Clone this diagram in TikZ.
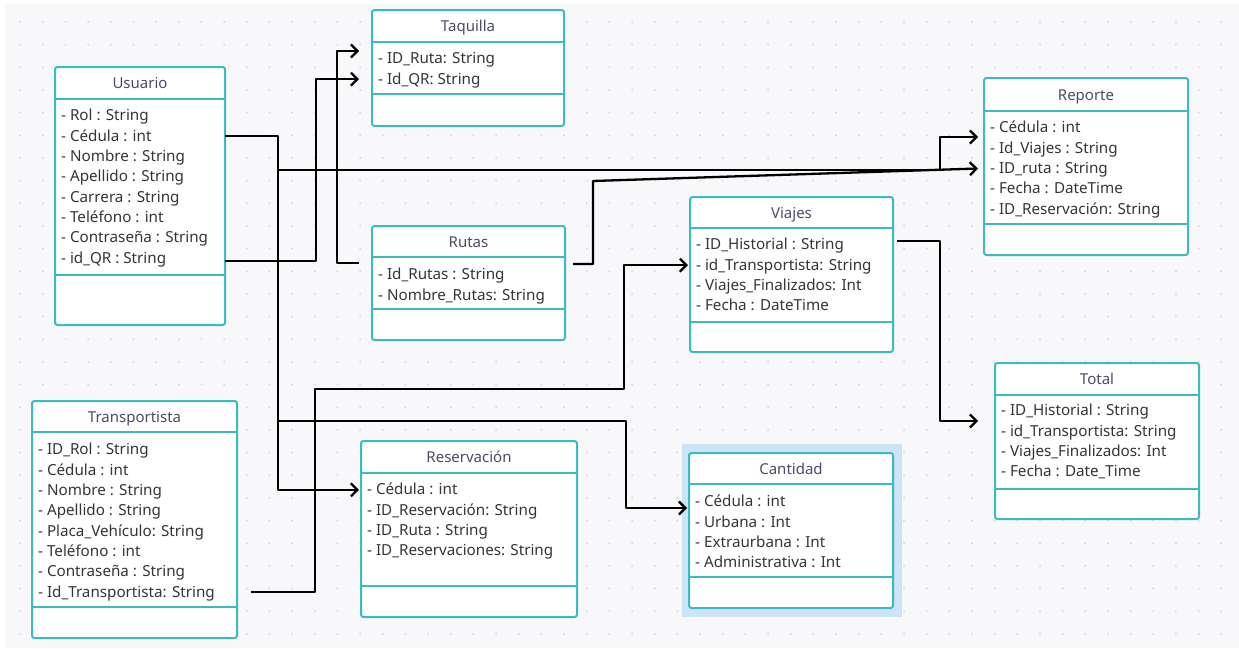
\documentclass[tikz,border=0pt]{standalone}
\usepackage{fontspec}
\setmainfont{Noto Sans}
\usetikzlibrary{arrows.meta}

\definecolor{canvas}{HTML}{F8F8FA}
\definecolor{griddot}{HTML}{D9D9E0}
\definecolor{umlteal}{HTML}{3BBCBC}
\definecolor{titlecol}{HTML}{4A4B68}
\definecolor{attrcol}{HTML}{353535}
\definecolor{selblue}{HTML}{CDE4F7}

\tikzset{
  classframe/.style={draw=umlteal, line width=2pt, fill=white, rounded corners=2.5pt,
    inner sep=0pt, outer sep=0pt, anchor=north west},
  divider/.style={draw=umlteal, line width=2pt},
  classtitle/.style={font=\fontsize{15}{18}\selectfont, text=titlecol, inner sep=0pt,
    text height=12pt, text depth=2pt},
  attrtext/.style={font=\fontsize{15.2}{18}\selectfont, text=attrcol, inner sep=0pt,
    text height=12pt, text depth=2pt, anchor=west},
  link/.style={draw=black, line width=2.3pt, line join=round},
  linkarrow/.style={link, -{Straight Barb[length=6.5pt,width=13pt]}},
}

% #1 name, #2 left, #3 top, #4 right, #5 title rule, #6 divider, #7 bottom, #8 title
\newcommand{\umlclass}[8]{%
  \node[classframe, minimum width={#4-#2}, minimum height={#7-#3}] (#1) at (#2,#3) {};
  \draw[divider] (#2,#5) -- (#4,#5);
  \draw[divider] (#2,#6) -- (#4,#6);
  \node[classtitle] (#1-title) at ({(#2+#4)/2},{(#3+#5)/2+0.5}) {#8};
}
% #1 name, #2 left, #3 first row, #4 attribute list
\newcommand{\umlattrs}[4]{%
  \foreach \a [count=\k] in {#4} {
    \node[attrtext] (#1-\k) at ({#2+6},{#3+0.8+(\k-1)*20.35}) {\a};
  }
}

\begin{document}
\begin{tikzpicture}[x=1pt,y=-1pt]
  \useasboundingbox (0,0) rectangle (1239,648);
  \fill[white] (0,0) rectangle (1239,648);
  \fill[canvas] (5,4) rectangle (1239,648);

  % dotted canvas grid
  \begin{scope}
    \clip (5,4) rectangle (1239,648);
    \foreach \i in {0,...,54} {
      \foreach \j in {0,...,28} {
        \fill[griddot] ({20.3+\i*22.66},{22+\j*22.66}) circle[radius=1.1pt];
      }
    }
  \end{scope}

  % selection halo around Cantidad
  \fill[selblue] (682,444) rectangle (902,617);

  % classes
  \umlclass{usuario}{55}{67}{225}{99}{275}{325}{Usuario}
  \umlattrs{usuario}{55}{115}{- Rol : String, - Cédula : int, - Nombre : String,
    - Apellido : String, - Carrera : String, - Teléfono : int,
    - Contraseña : String, - id\_QR : String}

  \umlclass{taquilla}{372}{10}{564}{42}{94}{126}{Taquilla}
  \umlattrs{taquilla}{372}{58}{- ID\_Ruta: String, - Id\_QR: String}

  \umlclass{rutas}{372}{226}{565}{257}{309}{340}{Rutas}
  \umlattrs{rutas}{372}{274}{- Id\_Rutas : String, - Nombre\_Rutas: String}

  \umlclass{viajes}{690}{197}{893}{228}{322}{352}{Viajes}
  \umlattrs{viajes}{690}{244}{- ID\_Historial : String, - id\_Transportista: String,
    - Viajes\_Finalizados: Int, - Fecha : DateTime}

  \umlclass{reporte}{984}{78}{1188}{111}{224}{255}{Reporte}
  \umlattrs{reporte}{984}{127}{- Cédula : int, - Id\_Viajes : String, - ID\_ruta : String,
    - Fecha : DateTime, - ID\_Reservación: String}

  \umlclass{total}{995}{363}{1199}{395}{489}{519}{Total}
  \umlattrs{total}{995}{410}{- ID\_Historial : String, - id\_Transportista: String,
    - Viajes\_Finalizados: Int, - Fecha : Date\_Time}

  \umlclass{transportista}{32}{401}{237}{432}{607}{638}{Transportista}
  \umlattrs{transportista}{32}{449}{- ID\_Rol : String, - Cédula : int, - Nombre : String,
    - Apellido : String, - Placa\_Vehículo: String, - Teléfono : int,
    - Contraseña : String, - Id\_Transportista: String}

  \umlclass{reservacion}{361}{441}{577}{473}{586}{617}{Reservación}
  \umlattrs{reservacion}{361}{489}{- Cédula : int, - ID\_Reservación: String,
    - ID\_Ruta : String, - ID\_Reservaciones: String}

  \umlclass{cantidad}{689}{453}{893}{484}{577}{608}{Cantidad}
  \umlattrs{cantidad}{689}{501}{- Cédula : int, - Urbana : Int, - Extraurbana : Int,
    - Administrativa : Int}

  % connectors
  % Usuario.Cédula -> Reservación.Cédula (main bus at x = 278)
  \draw[linkarrow] (usuario.east |- usuario-2) -| (278,300)
    |- ([xshift=-2pt]reservacion.west |- reservacion-1);
  % bus branch -> Reporte
  \coordinate (busReporte) at (278,170);
  \draw[linkarrow] (busReporte) -| (940,150) |- ([shift={(-6,59)}]reporte.north west);
  % bus branch -> Cantidad
  \coordinate (busCantidad) at (278,421);
  \draw[linkarrow] (busCantidad) -| (626,460) |- ([shift={(-2,55)}]cantidad.north west);
  % Usuario.id_QR -> Taquilla.Id_QR
  \draw[linkarrow] ([yshift=-3pt]usuario.east |- usuario-8) -| (316,150)
    |- ([xshift=-13pt]taquilla.west |- taquilla-2);
  % Rutas -> Taquilla.ID_Ruta
  \draw[linkarrow] ([shift={(-13,37)}]rutas.north west) -| (337,150)
    |- ([shift={(-13,41)}]taquilla.north west);
  % Rutas -> Reporte.ID_ruta
  \draw[linkarrow] ([shift={(8,38)}]rutas.north east) -| (593,181)
    -- ([xshift=-6pt]reporte.west |- reporte-3);
  % Transportista.Id_Transportista -> Viajes.id_Transportista
  \draw[linkarrow] ([xshift=14pt]transportista.east |- transportista-8) -| (315,389)
    -| (624,300) |- ([xshift=-2pt]viajes.west |- viajes-2);
  % Viajes -> Total
  \draw[linkarrow] ([shift={(4,-4)}]viajes.east |- viajes-1) -| (940,300)
    |- ([shift={(-17,58)}]total.north west);
\end{tikzpicture}
\end{document}
